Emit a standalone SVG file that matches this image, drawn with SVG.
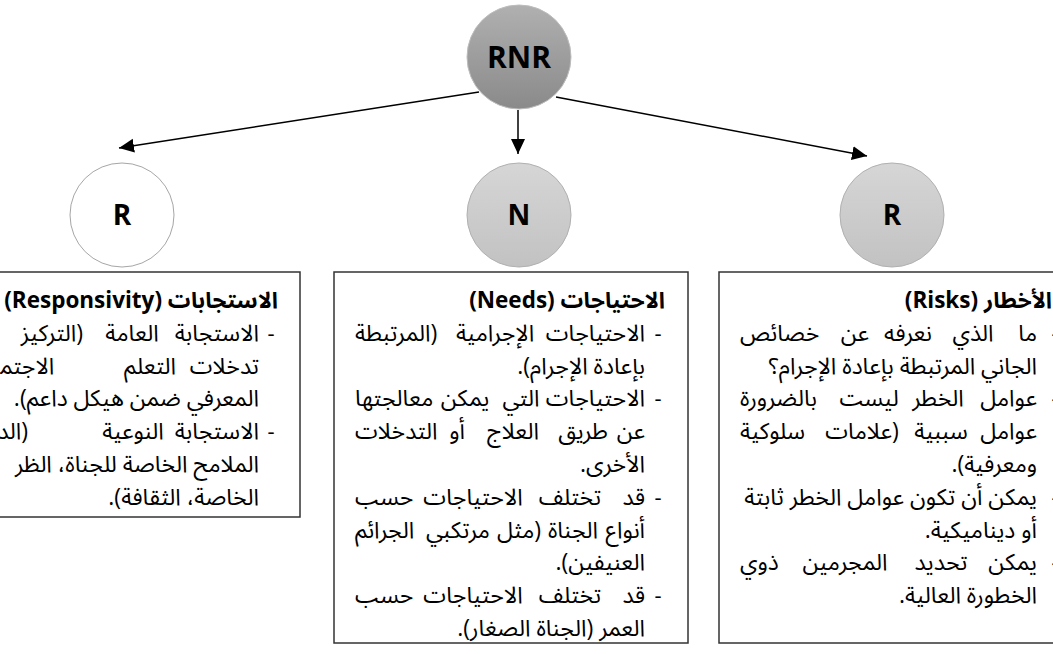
<svg xmlns="http://www.w3.org/2000/svg" width="1053" height="654" viewBox="0 0 1053 654">
<defs>
<linearGradient id="gTop" x1="0" y1="0" x2="0" y2="1"><stop offset="0" stop-color="#b0b0b0"/><stop offset="1" stop-color="#8a8a8a"/></linearGradient>
<linearGradient id="gMid" x1="0" y1="0" x2="0" y2="1"><stop offset="0" stop-color="#d6d6d6"/><stop offset="1" stop-color="#c2c2c2"/></linearGradient>
<marker id="ah" markerUnits="userSpaceOnUse" markerWidth="16" markerHeight="16" viewBox="0 0 16 16" refX="15" refY="7" orient="auto"><path d="M0,0 L15,7 L0,14 z" fill="#000"/></marker>
<style>
.box{fill:#fff;stroke:#333;stroke-width:1.5}
.lt{font-family:"Open Sans","Liberation Sans",sans-serif;font-weight:bold;fill:#000;text-anchor:middle}
.ar{font-family:"Open Sans","Noto Sans Arabic","DejaVu Sans",sans-serif;font-size:23px;fill:#000;direction:rtl;unicode-bidi:embed}
.t{font-weight:bold;font-size:22.5px}
.s{text-anchor:start}
.e{text-anchor:end}
.m{text-anchor:middle}
.b{font-family:"Open Sans","Liberation Sans",sans-serif;font-size:22px;text-anchor:middle;fill:#000}
.c{stroke:#000;stroke-width:1.5;fill:none;marker-end:url(#ah)}
</style>
</defs>
<g id="connectors">
<line class="c" x1="479" y1="92" x2="119" y2="148"/>
<line class="c" x1="518" y1="110" x2="518" y2="154"/>
<line class="c" x1="556" y1="97" x2="867" y2="156"/>
</g>
<g id="node-rnr">
<circle cx="519" cy="57" r="52" fill="url(#gTop)" stroke="#bdbdbd" stroke-width="1"/>
<text class="lt" x="519" y="68" font-size="30">RNR</text>
</g>
<g id="node-r-left">
<circle cx="122" cy="215" r="52" fill="#fff" stroke="#a6a6a6" stroke-width="1"/>
<text class="lt" x="122" y="225" font-size="28">R</text>
</g>
<g id="node-n">
<circle cx="519" cy="215" r="52" fill="url(#gMid)" stroke="#b0b0b0" stroke-width="1"/>
<text class="lt" x="519" y="225" font-size="28">N</text>
</g>
<g id="node-r-right">
<circle cx="892" cy="215" r="52" fill="url(#gMid)" stroke="#b0b0b0" stroke-width="1"/>
<text class="lt" x="892" y="225" font-size="28">R</text>
</g>
<g id="box-responsivity">
<rect class="box" x="-54" y="272" width="354" height="245"/>
<text class="ar t s" x="278" y="308">الاستجابات (Responsivity)</text>
<text class="b" x="271" y="340.8">-</text>
<text class="ar s" x="259" y="340.8">الاستجابة</text>
<text class="ar m" x="132" y="340.8">العامة</text>
<text class="ar s" x="83" y="340.8">(التركيز</text>
<text class="ar s" x="259" y="373.6">تدخلات</text>
<text class="ar m" x="150" y="373.6">التعلم</text>
<text class="ar e" x="0" y="373.6">الاجتم&#x200D;</text>
<text class="ar s" x="259" y="406.4">المعرفي ضمن هيكل داعم).</text>
<text class="b" x="271" y="439.2">-</text>
<text class="ar s" x="259" y="439.2">الاستجابة</text>
<text class="ar m" x="133" y="439.2">النوعية</text>
<text class="ar s" x="28" y="439.2">(الد</text>
<text class="ar s" x="259" y="472">الملامح الخاصة للجناة، الظر</text>
<text class="ar s" x="259" y="504.8">الخاصة، الثقافة).</text>
</g>
<g id="box-needs">
<rect class="box" x="334" y="272" width="354" height="371"/>
<text class="ar t s" x="665" y="308">الاحتياجات (Needs)</text>
<text class="b" x="658" y="340.8">-</text>
<text class="ar s" x="645" y="340.8">الاحتياجات</text>
<text class="ar m" x="495" y="340.8">الإجرامية</text>
<text class="ar e" x="355" y="340.8">(المرتبطة</text>
<text class="ar s" x="645" y="373.6">بإعادة الإجرام).</text>
<text class="b" x="658" y="406.4">-</text>
<text class="ar s" x="645" y="406.4">الاحتياجات</text>
<text class="ar m" x="521" y="406.4">التي</text>
<text class="ar m" x="465" y="406.4">يمكن</text>
<text class="ar e" x="355" y="406.4">معالجتها</text>
<text class="ar s" x="645" y="439.2">عن</text>
<text class="ar m" x="583" y="439.2">طريق</text>
<text class="ar m" x="513" y="439.2">العلاج</text>
<text class="ar m" x="457" y="439.2">أو</text>
<text class="ar e" x="355" y="439.2">التدخلات</text>
<text class="ar s" x="645" y="472">الأخرى.</text>
<text class="b" x="658" y="504.8">-</text>
<text class="ar s" x="645" y="504.8">قد</text>
<text class="ar m" x="570" y="504.8">تختلف</text>
<text class="ar m" x="473" y="504.8">الاحتياجات</text>
<text class="ar e" x="355" y="504.8">حسب</text>
<text class="ar s" x="645" y="537.6">أنواع</text>
<text class="ar m" x="573" y="537.6">الجناة</text>
<text class="ar m" x="519" y="537.6">(مثل</text>
<text class="ar m" x="458" y="537.6">مرتكبي</text>
<text class="ar e" x="355" y="537.6">الجرائم</text>
<text class="ar s" x="645" y="570.4">العنيفين).</text>
<text class="b" x="658" y="603.2">-</text>
<text class="ar s" x="645" y="603.2">قد</text>
<text class="ar m" x="570" y="603.2">تختلف</text>
<text class="ar m" x="473" y="603.2">الاحتياجات</text>
<text class="ar e" x="355" y="603.2">حسب</text>
<text class="ar s" x="645" y="636">العمر (الجناة الصغار).</text>
</g>
<g id="box-risks">
<rect class="box" x="719" y="272" width="354" height="371"/>
<text class="ar t s" x="1052" y="308">الأخطار (Risks)</text>
<text class="b" x="1055" y="340.8">-</text>
<text class="ar s" x="1037" y="340.8">ما</text>
<text class="ar m" x="973" y="340.8">الذي</text>
<text class="ar m" x="908" y="340.8">نعرفه</text>
<text class="ar m" x="855" y="340.8">عن</text>
<text class="ar e" x="740" y="340.8">خصائص</text>
<text class="ar s" x="1037" y="373.6">الجاني المرتبطة بإعادة الإجرام؟</text>
<text class="b" x="1055" y="406.4">-</text>
<text class="ar s" x="1037" y="406.4">عوامل</text>
<text class="ar m" x="938" y="406.4">الخطر</text>
<text class="ar m" x="869" y="406.4">ليست</text>
<text class="ar e" x="740" y="406.4">بالضرورة</text>
<text class="ar s" x="1037" y="439.2">عوامل</text>
<text class="ar m" x="941" y="439.2">سببية</text>
<text class="ar m" x="862" y="439.2">(علامات</text>
<text class="ar e" x="740" y="439.2">سلوكية</text>
<text class="ar s" x="1037" y="472">ومعرفية).</text>
<text class="b" x="1055" y="504.8">-</text>
<text class="ar s" x="1037" y="504.8">يمكن أن تكون عوامل الخطر ثابتة</text>
<text class="ar s" x="1037" y="537.6">أو ديناميكية.</text>
<text class="b" x="1055" y="570.4">-</text>
<text class="ar s" x="1037" y="570.4">يمكن</text>
<text class="ar m" x="941" y="570.4">تحديد</text>
<text class="ar m" x="845" y="570.4">المجرمين</text>
<text class="ar e" x="740" y="570.4">ذوي</text>
<text class="ar s" x="1037" y="603.2">الخطورة العالية.</text>
</g>
</svg>
